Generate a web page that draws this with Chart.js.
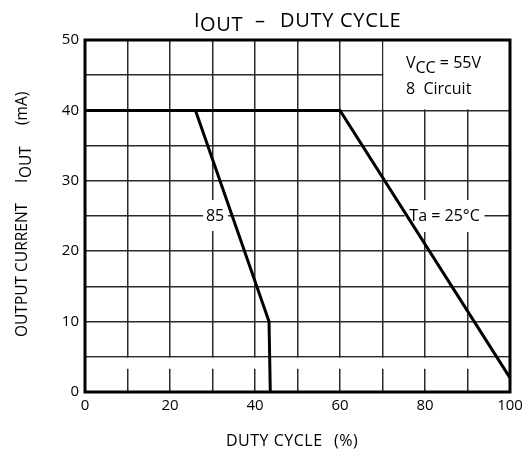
<!DOCTYPE html>
<html><head><meta charset="utf-8">
<script src="https://cdn.jsdelivr.net/npm/chart.js@4/dist/chart.umd.min.js"></script>
<style>html,body{margin:0;padding:0;background:#fff;}#wrap{width:528px;height:450px;}</style>
</head><body><div id="wrap"><canvas id="c" width="528" height="450"></canvas></div>
<script>
// ---- data ----
const dutyTa25 = [0, 60, 100];
const currentTa25 = [40, 40, 2];
const duty85 = [0, 26, 43.3, 43.6];
const current85 = [40, 40, 10, 0];
const xTickLabels = [0, 20, 40, 60, 80, 100];
const yTickLabels = [0, 10, 20, 30, 40, 50];
const seriesLabels = ['Ta = 25°C', '85'];

const FONT = "'Open Sans', sans-serif";

function drawParts(ctx, parts, x, y) {
  let cx = x;
  for (const [t, dy] of parts) { ctx.fillText(t, cx, y + dy); cx += ctx.measureText(t).width; }
  return cx;
}

const decor = {
  id: 'decor',
  beforeDatasetsDraw(chart) {
    const {ctx, chartArea: a, scales: {x, y}} = chart;
    ctx.save();
    ctx.fillStyle = '#fff';
    // blank box for condition text
    ctx.fillRect(x.getPixelForValue(70) + 1, a.top + 1, a.right - x.getPixelForValue(70) - 2, y.getPixelForValue(40) - a.top - 2);
    // gap in grid near the bottom
    ctx.fillRect(a.left + 2, y.getPixelForValue(5) + 1, a.right - a.left - 4, y.getPixelForValue(3.3) - y.getPixelForValue(5) - 1);
    // label backgrounds
    const lx85 = x.getPixelForValue(30.6), ly = y.getPixelForValue(25);
    ctx.fillRect(lx85 - 12, ly - 16, 25, 31);
    const lxTa = x.getPixelForValue(84.6);
    ctx.fillRect(lxTa - 40, ly - 16, 80, 32);
    // labels
    ctx.fillStyle = '#000';
    ctx.font = '16px ' + FONT;
    ctx.textAlign = 'center';
    ctx.textBaseline = 'middle';
    ctx.fillText(seriesLabels[1], lx85, ly);
    ctx.fillText(seriesLabels[0], lxTa, ly);
    // condition text
    ctx.textAlign = 'left';
    ctx.textBaseline = 'alphabetic';
    drawParts(ctx, [['V', 0], ['CC', 5], [' = 55V', 0]], 406, 68);
    ctx.fillText('8  Circuit', 406, 94);
    // frame
    ctx.strokeStyle = '#000';
    ctx.lineWidth = 3;
    ctx.strokeRect(a.left, a.top, a.right - a.left, a.bottom - a.top);
    ctx.restore();
  },
  afterDraw(chart) {
    const {ctx} = chart;
    ctx.save();
    ctx.fillStyle = '#000';
    ctx.textAlign = 'left';
    ctx.textBaseline = 'alphabetic';
    // main title
    ctx.font = '20px ' + FONT;
    ctx.letterSpacing = '0.7px';
    ctx.fillText('I', 194, 27);
    ctx.fillText('OUT', 200, 31);
    ctx.fillText('–', 255, 27);
    ctx.fillText('DUTY CYCLE', 280, 27);
    // x title
    ctx.font = '16px ' + FONT;
    ctx.letterSpacing = '0.5px';
    ctx.fillText('DUTY CYCLE', 226, 446);
    ctx.fillText('(%)', 334, 446);
    // y title
    ctx.font = '15.5px ' + FONT;
    ctx.letterSpacing = '0px';
    ctx.translate(27, 0);
    ctx.rotate(-Math.PI / 2);
    ctx.fillText('OUTPUT CURRENT', -337, 0);
    ctx.fillText('I', -183, 0);
    ctx.fillText('OUT', -178, 4);
    ctx.fillText('(mA)', -125, 0);
    ctx.restore();
  }
};

new Chart(document.getElementById('c'), {
  type: 'scatter',
  data: {
    datasets: [
      { label: seriesLabels[0], data: dutyTa25.map((d, i) => ({x: d, y: currentTa25[i]})), showLine: true,
        borderColor: '#000', borderWidth: 3, pointRadius: 0, tension: 0, borderCapStyle: 'butt' },
      { label: seriesLabels[1], data: duty85.map((d, i) => ({x: d, y: current85[i]})), showLine: true,
        borderColor: '#000', borderWidth: 3, pointRadius: 0, tension: 0, borderCapStyle: 'butt' }
    ]
  },
  options: {
    responsive: false,
    animation: false,
    layout: { padding: { top: 40, right: 18, left: 0, bottom: 0 } },
    plugins: { legend: { display: false }, tooltip: { enabled: false }, title: { display: false } },
    scales: {
      x: {
        type: 'linear', min: 0, max: 100,
        afterFit(s) { s.height = 58; },
        grid: { color: '#2a2a2a', lineWidth: 1.5, drawTicks: false },
        border: { display: false },
        ticks: { stepSize: 10, padding: 5, color: '#000', font: { family: FONT, size: 15 }, maxRotation: 0, autoSkip: false,
          callback: v => xTickLabels.includes(v) ? String(v) : '' }
      },
      y: {
        type: 'linear', min: 0, max: 50,
        afterFit(s) { s.width = 85; },
        grid: { color: '#2a2a2a', lineWidth: 1.5, drawTicks: false },
        border: { display: false },
        ticks: { stepSize: 5, padding: 6, color: '#000', font: { family: FONT, size: 15 }, autoSkip: false,
          callback: v => yTickLabels.includes(v) ? String(v) : '' }
      }
    }
  },
  plugins: [decor]
});
</script></body></html>
